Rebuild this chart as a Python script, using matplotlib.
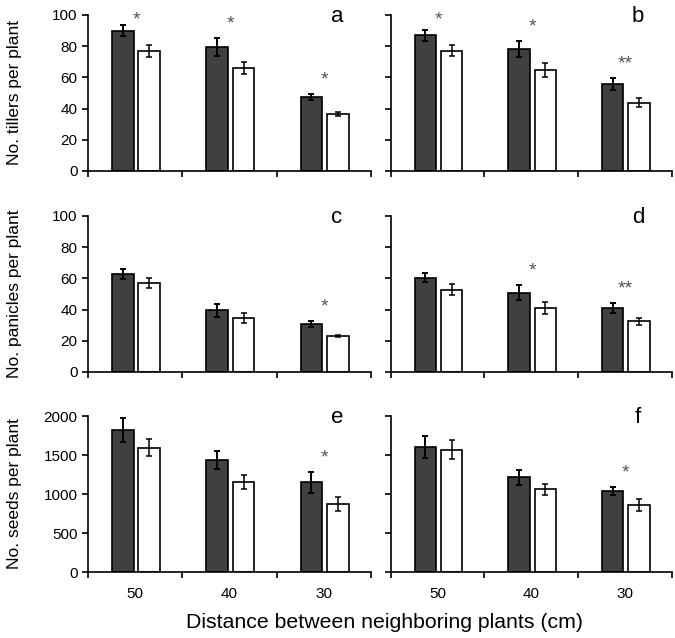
import matplotlib
matplotlib.use("Agg")
import matplotlib.pyplot as plt
import numpy as np

plt.rcParams["font.family"] = ["Liberation Sans", "DejaVu Sans"]

# distance between neighboring plants (cm)
distances = ["50", "40", "30"]

# panel a / b : tillers per plant
a_dark = [90, 79.5, 47.3]
a_dark_err = [3.7, 6.0, 2.0]
a_white = [77, 65.9, 36.5]
a_white_err = [4.0, 4.0, 1.5]
a_sig = ["*", "*", "*"]

b_dark = [87, 78.3, 55.7]
b_dark_err = [3.6, 5.3, 3.7]
b_white = [77, 64.8, 43.9]
b_white_err = [3.5, 4.6, 3.1]
b_sig = ["*", "*", "**"]

# panel c / d : panicles per plant
c_dark = [63, 39.5, 30.8]
c_dark_err = [3.2, 4.0, 1.8]
c_white = [56.8, 34.4, 23.1]
c_white_err = [3.2, 3.3, 0.8]
c_sig = ["", "", "*"]

d_dark = [60.5, 50.9, 41]
d_dark_err = [2.8, 5.0, 3.2]
d_white = [52.8, 41, 32.5]
d_white_err = [3.6, 3.7, 2.2]
d_sig = ["", "*", "**"]

# panel e / f : seeds per plant
e_dark = [1824, 1439, 1148]
e_dark_err = [156, 118, 130]
e_white = [1593, 1152, 874]
e_white_err = [107, 90, 86]
e_sig = ["", "", "*"]

f_dark = [1600, 1213, 1043]
f_dark_err = [140, 96, 49]
f_white = [1570, 1064, 860]
f_white_err = [123, 70, 72]
f_sig = ["", "", "*"]

ylabels = ["No. tillers per plant", "No. panicles per plant", "No. seeds per plant"]
ylims = [100, 100, 2000]
ysteps = [20, 20, 500]

panels = [
    ("a", a_dark, a_dark_err, a_white, a_white_err, a_sig),
    ("b", b_dark, b_dark_err, b_white, b_white_err, b_sig),
    ("c", c_dark, c_dark_err, c_white, c_white_err, c_sig),
    ("d", d_dark, d_dark_err, d_white, d_white_err, d_sig),
    ("e", e_dark, e_dark_err, e_white, e_white_err, e_sig),
    ("f", f_dark, f_dark_err, f_white, f_white_err, f_sig),
]

fig = plt.figure(figsize=(6.75, 6.38), dpi=100)

lefts = [0.1304, 0.579]
widths = [0.419, 0.416]
bottoms = [0.732, 0.417, 0.1034]
height = 0.2445

x = np.arange(len(distances))
w = 0.23

for k, (lab, dark, dark_err, white, white_err, sig) in enumerate(panels):
    row, col = k // 2, k % 2
    ax = fig.add_axes([lefts[col], bottoms[row], widths[col], height])
    ymax = ylims[row]

    ax.bar(x - 0.13, dark, w, color="#404040", edgecolor="black", linewidth=1.2,
           yerr=dark_err, capsize=2.5, error_kw=dict(elinewidth=1.4, capthick=1.4, ecolor="black"))
    ax.bar(x + 0.15, white, w, color="white", edgecolor="black", linewidth=1.2,
           yerr=white_err, capsize=2.5, error_kw=dict(elinewidth=1.1, capthick=1.1, ecolor="black"))

    for i, s in enumerate(sig):
        if s:
            top = max(dark[i] + dark_err[i], white[i] + white_err[i])
            ys = min(top + 0.09 * ymax, 0.97 * ymax)
            ax.text(x[i] + 0.01, ys, s, ha="center", va="center", fontsize=14,
                    color="#555555")

    ax.set_xlim(-0.5, 2.5)
    ax.set_ylim(0, ymax)
    ax.set_yticks(np.arange(0, ymax + 1, ysteps[row]))
    ax.set_xticks([-0.5, 0.5, 1.5, 2.5])
    ax.set_xticklabels([])
    ax.set_xticks(x, minor=True)
    if row == 2:
        ax.set_xticklabels(distances, minor=True)
    ax.tick_params(axis="x", which="minor", length=0, labelsize=11, pad=11)
    ax.tick_params(axis="both", which="major", direction="out", length=4, width=1.2,
                   labelsize=11)
    if col == 0:
        ax.set_ylabel(ylabels[row], fontsize=12.5)
        ax.yaxis.set_label_coords(-0.235, 0.5)
    else:
        ax.set_yticklabels([])

    for sp in ["top", "right"]:
        ax.spines[sp].set_visible(False)
    for sp in ["left", "bottom"]:
        ax.spines[sp].set_linewidth(1.2)

    ax.text(0.88, 0.99, lab, transform=ax.transAxes, ha="center", va="center",
            fontsize=16)

fig.text(0.569, 0.024, "Distance between neighboring plants (cm)", ha="center",
         va="center", fontsize=15.3)

fig.savefig("out.png", dpi=100)
